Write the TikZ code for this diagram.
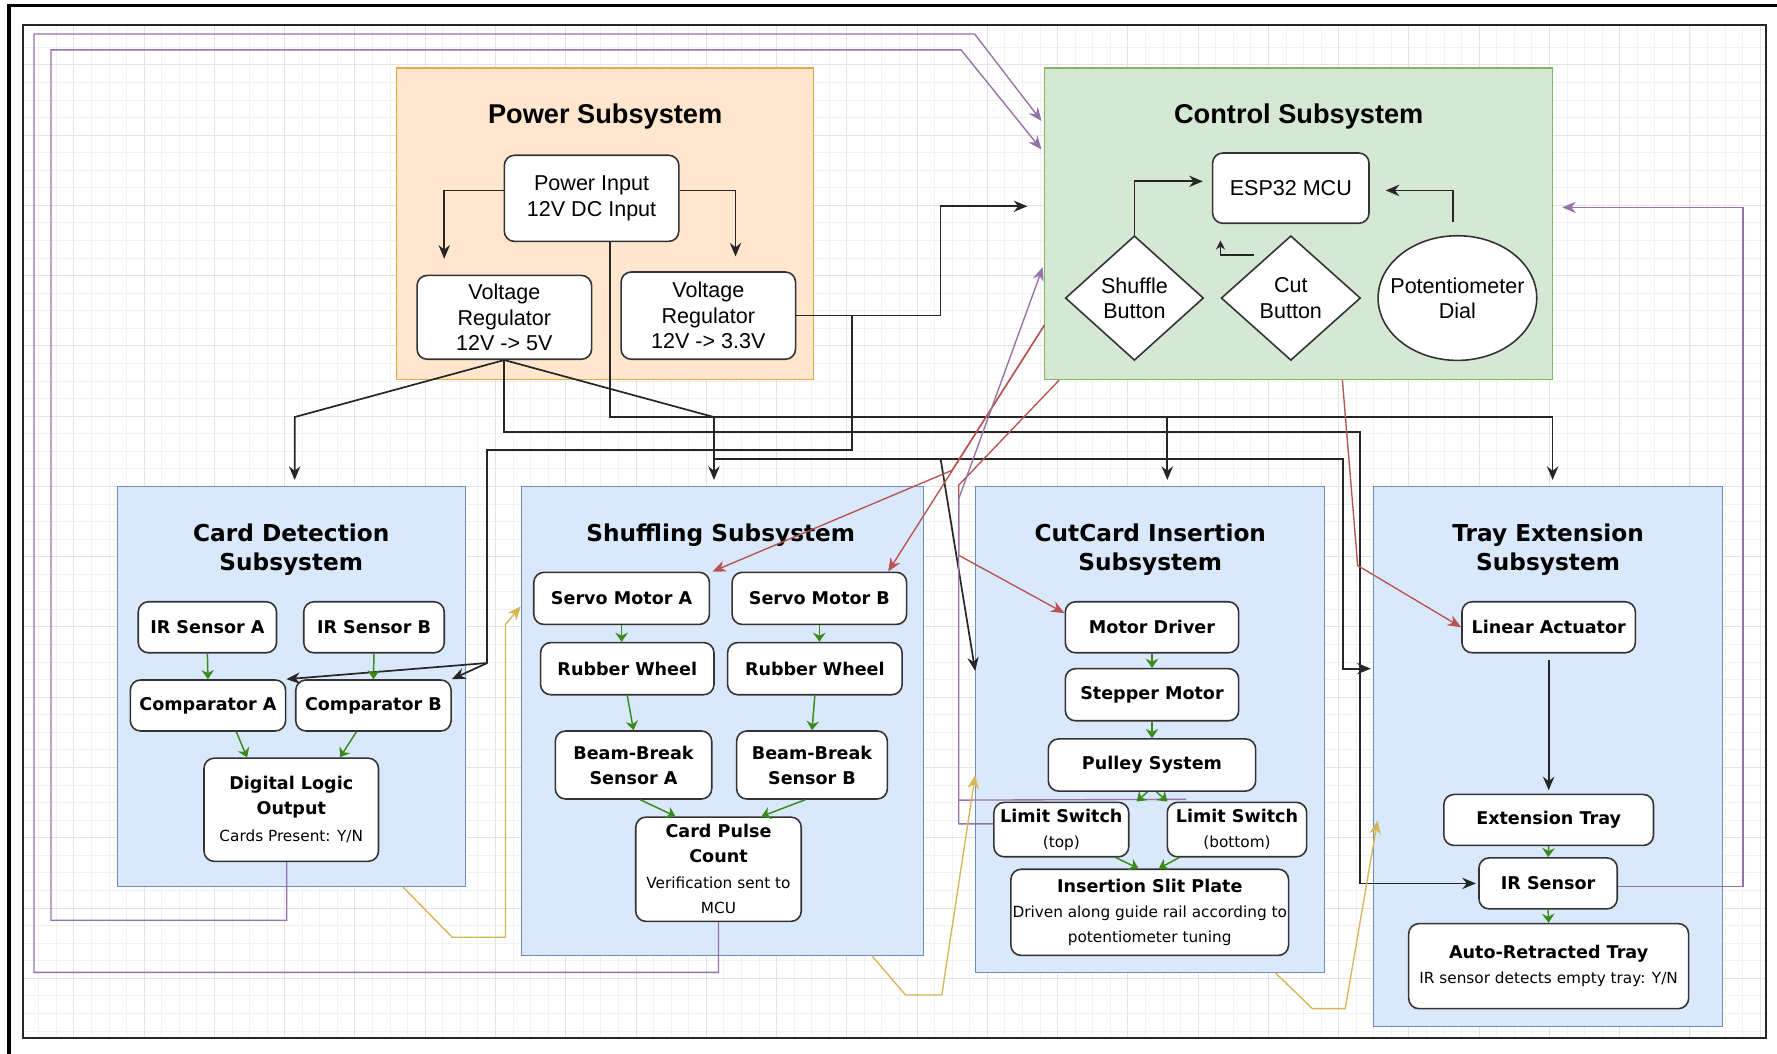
\documentclass[tikz,border=0pt]{standalone}
\usepackage{fontspec}
\setmainfont{Liberation Sans}
\newfontfamily\dvsans{DejaVu Sans}
\usepackage{tikz}
\usetikzlibrary{arrows.meta,shapes.geometric}
\definecolor{pwrfill}{HTML}{FFE6CC}
\definecolor{pwrline}{HTML}{E0AC4A}
\definecolor{ctlfill}{HTML}{D5E8D4}
\definecolor{ctlline}{HTML}{82B366}
\definecolor{subfill}{HTML}{DAE8FC}
\definecolor{subline}{HTML}{6C8EBF}
\definecolor{wRed}{HTML}{B85450}
\definecolor{wPurple}{HTML}{9673A6}
\definecolor{wYellow}{HTML}{D6B656}
\definecolor{wGreen}{HTML}{3A8A1E}
\newcommand{\subtxt}[1]{{\mdseries\fontsize{13.5}{18}\selectfont #1}}

\begin{document}
\begin{tikzpicture}[x=1pt, y=-1pt,
  sysbox/.style={draw=subline, fill=subfill, line width=1pt, inner sep=0pt},
  part/.style={draw=black!80, line width=1.4pt, fill=white, rounded corners=9pt, inner sep=0pt, align=center, font=\dvsans\bfseries\fontsize{15.5}{22}\selectfont},
  pwrpart/.style={part, font=\fontsize{19}{22.5}\selectfont},
  systitle/.style={align=center, font=\dvsans\bfseries\fontsize{20.5}{26}\selectfont},
  toptitle/.style={font=\bfseries\fontsize{24}{28}\selectfont},
  pwire/.style={draw=black!85, line width=1.5pt},
  parrow/.style={pwire, -{Stealth[length=12pt,width=10pt]}},
  ctlwire/.style={draw=wRed, line width=1.2pt, -{Stealth[length=12pt,width=10pt]}},
  fbwire/.style={draw=wPurple, line width=1.2pt, -{Stealth[length=12pt,width=10pt]}},
  auxwire/.style={draw=wYellow, line width=1.2pt, -{Stealth[length=12pt,width=10pt]}},
  flow/.style={draw=wGreen, line width=1.3pt, -{Stealth[length=8pt,width=11pt]}}]
\useasboundingbox (0,0) rectangle (1568,930);
\fill[white] (0,0) rectangle (1568,930);

% background grid
\begin{scope}
\clip (20,22) rectangle (1558,916);
\draw[gray!10, line width=0.4pt, shift={(3,-5)}, step=15.5pt] (0,940) grid (1570,0);
\draw[gray!22, line width=0.5pt, shift={(3,-5)}, step=62pt] (0,940) grid (1570,0);
\end{scope}
\draw[line width=3pt] (8,930) -- (8,5) -- (1568,5);
\draw[black!85, line width=1.6pt] (20,22) rectangle (1558,916);

% power
\node[sysbox, draw=pwrline, fill=pwrfill, minimum width=368, minimum height=275] (pwr) at (534,197.5) {};
\node[toptitle] (pwrtitle) at (534,103) {Power Subsystem};
\node[pwrpart, minimum width=154, minimum height=76] (pin) at (522,175) {Power Input\\12V DC Input};
\node[pwrpart, minimum width=154, minimum height=74] (vrfive) at (445,280) {Voltage\\Regulator\\12V -> 5V};
\node[pwrpart, minimum width=154, minimum height=77] (vrthree) at (625,278.5) {Voltage\\Regulator\\12V -> 3.3V};

% control
\node[sysbox, draw=ctlline, fill=ctlfill, minimum width=448, minimum height=275] (ctl) at (1146,197.5) {};
\node[toptitle] (ctltitle) at (1146,103) {Control Subsystem};
\node[pwrpart, minimum width=138, minimum height=62] (mcu) at (1139,166) {ESP32 MCU};
\node[pwrpart, diamond, sharp corners, minimum width=122, minimum height=110] (shuf) at (1001,263) {Shuffle\\Button};
\node[pwrpart, diamond, sharp corners, minimum width=123, minimum height=110] (cutb) at (1139,263) {Cut\\Button};
\node[pwrpart, ellipse, minimum width=140, minimum height=110] (pot) at (1286,263) {};
\node[align=center, font=\fontsize{19}{22.5}\selectfont] (potlbl) at (pot.center) {Potentiometer\\Dial};

% card detection
\node[sysbox, minimum width=307, minimum height=353] (cdet) at (257.5,605.5) {};
\node[systitle] (cdtitle) at (257,485) {Card Detection\\Subsystem};
\node[part, minimum width=122, minimum height=45] (irA) at (183,553.5) {IR Sensor A};
\node[part, minimum width=124, minimum height=45] (irB) at (330,553.5) {IR Sensor B};
\node[part, minimum width=137, minimum height=45] (compA) at (183.5,622.5) {Comparator A};
\node[part, minimum width=137, minimum height=45] (compB) at (329.5,622.5) {Comparator B};
\node[part, minimum width=154, minimum height=91] (dlo) at (257,714.5) {Digital Logic\\Output\\[2pt]\subtxt{Cards Present: Y/N}};

% shuffling
\node[sysbox, minimum width=355, minimum height=414] (shfl) at (637.5,636) {};
\node[systitle] (shtitle) at (636,472) {Shuffling Subsystem};
\node[part, minimum width=155, minimum height=46] (servoA) at (548.5,528) {Servo Motor A};
\node[part, minimum width=154, minimum height=46] (servoB) at (723,528) {Servo Motor B};
\node[part, minimum width=153, minimum height=46] (wheelA) at (553.5,590) {Rubber Wheel};
\node[part, minimum width=154, minimum height=46] (wheelB) at (719,590) {Rubber Wheel};
\node[part, minimum width=138, minimum height=60] (beamA) at (559,675) {Beam-Break\\Sensor A};
\node[part, minimum width=133, minimum height=60] (beamB) at (716.5,675) {Beam-Break\\Sensor B};
\node[part, minimum width=146, minimum height=92] (pulse) at (634,767) {Card Pulse\\Count\\[1pt]\subtxt{Verification sent to}\\\subtxt{MCU}};

% cut card insertion
\node[sysbox, minimum width=308, minimum height=429] (cutc) at (1015,643.5) {};
\node[systitle] (cctitle) at (1015,485) {CutCard Insertion\\Subsystem};
\node[part, minimum width=153, minimum height=45] (mdrv) at (1016.5,553.5) {Motor Driver};
\node[part, minimum width=153, minimum height=46] (stepm) at (1016.5,613) {Stepper Motor};
\node[part, minimum width=183, minimum height=46] (pulley) at (1016.5,675) {Pulley System};
\node[part, minimum width=119, minimum height=48] (limtop) at (936.5,732) {Limit Switch\\\subtxt{(top)}};
\node[part, minimum width=123, minimum height=48] (limbot) at (1091.5,732) {Limit Switch\\\subtxt{(bottom)}};
\node[part, minimum width=245, minimum height=76] (slit) at (1014.5,805) {Insertion Slit Plate\\\subtxt{Driven along guide rail according to}\\\subtxt{potentiometer tuning}};

% tray extension
\node[sysbox, minimum width=308, minimum height=477] (tray) at (1366,667.5) {};
\node[systitle] (trtitle) at (1366,485) {Tray Extension\\Subsystem};
\node[part, minimum width=153, minimum height=45] (linact) at (1366.5,553.5) {Linear Actuator};
\node[part, minimum width=185, minimum height=45] (extray) at (1366.5,723.5) {Extension Tray};
\node[part, minimum width=122, minimum height=45] (irsens) at (1366,779.5) {IR Sensor};
\node[part, minimum width=247, minimum height=75] (retray) at (1366.5,852.5) {Auto-Retracted Tray\\\subtxt{IR sensor detects empty tray: Y/N}};

% power wiring
\coordinate (jcd) at (260,368);
\coordinate (jsh) at (630,368);
\coordinate (jtr) at (1370,368);
\coordinate (jcc) at (1030,368);
\coordinate (jir) at (1200,381);
\coordinate (jctl) at (830,182);
\coordinate (jv3) at (752,397);
\coordinate (jcmp) at (430,585);
\coordinate (jshb) at (630,405);
\coordinate (jts) at (1185,590);
\coordinate (jcut) at (830,405);
\draw[parrow, shorten >=14pt] ([yshift=7pt]pin.west) -| ([xshift=-53pt]vrfive.north);
\draw[parrow, shorten >=13pt] ([yshift=7pt]pin.east) -| ([xshift=24pt]vrthree.north);
\draw[parrow, shorten >=5pt] (vrfive.south) -- (jcd) -- (jcd |- cdet.north);
\draw[parrow, shorten >=5pt] (vrfive.south) -- (jsh) -- (jsh |- shfl.north);
\draw[parrow, shorten >=5pt] ([xshift=16pt]pin.south) |- (jtr) -- (jtr |- tray.north);
\draw[parrow, shorten >=5pt] (jcc) -- (jcc |- cutc.north);
\draw[parrow, shorten >=2pt] (vrfive.south) |- (jir) |- (irsens.west);
\draw[parrow, shorten >=15pt] (vrthree.east) -| (jctl) -- (jctl -| ctl.west);
\draw[pwire] (vrthree.east) -| (jv3) -| (jcmp);
\draw[parrow] (jcmp) -- (compB.north east);
\draw[parrow] (jcmp) -- (compA.north east);
\draw[parrow, shorten >=2pt] (jshb) -| (jts) -- (jts -| tray.west);
\draw[parrow] (jcut) -- ([yshift=51.5pt]cutc.west);

% control inputs
\draw[parrow, shorten >=8pt] (shuf.north) |- ([yshift=6pt]mcu.west);
\draw[parrow, shorten <=11pt, shorten >=14pt] ([xshift=-4pt]pot.north) |- ([yshift=-2pt]mcu.east);
\draw[pwire, -{Stealth[length=8pt,width=8pt]}] ([xshift=-1pt,yshift=10pt]cutb.north west) -| ++(-30,-13);

% control outputs
\draw[ctlwire] ([yshift=-89.5pt]ctl.west) -- ([xshift=-17pt]servoB.north east);
\draw[ctlwire] ([yshift=-89.5pt]ctl.west) -- (840,415) -- ([xshift=2pt]servoA.north east);
\draw[ctlwire] ([xshift=13pt]ctl.south west) -- (846,428) -- (846,490) -- ([yshift=12.5pt]mdrv.west);
\draw[ctlwire] ([xshift=263pt]ctl.south west) -- (1198,499) -- (linact.west);

% feedback to control
\draw[fbwire, shorten >=4pt] (pulse.south) |- (30,858) |- (860,30) -- ([yshift=87.5pt]ctl.west);
\draw[fbwire, shorten >=4pt] ([xshift=-4pt]dlo.south) |- (45,812) |- (848,44) -- ([yshift=62.5pt]ctl.west);
\draw[fbwire, shorten >=8pt] ([yshift=-2.5pt]irsens.east) -| (1538,183) -- ([yshift=14.5pt]ctl.east);
\draw[fbwire, shorten >=4pt] ([yshift=5pt]limtop.west) -| (846,440) -- ([yshift=-34.5pt]ctl.west);
\draw[draw=wPurple, line width=1.2pt] ([xshift=-45pt,yshift=2pt]limbot.north) -- (846,706);

% subsystem links
\draw[auxwire] ([xshift=-56pt]cdet.south east) -- (399,827) -| (446,551) -- ([yshift=101pt]shfl.west);
\draw[auxwire] ([xshift=-46pt]shfl.south east) -- (799,878) -- (831,878) -- ([yshift=-40.5pt]cutc.west);
\draw[auxwire] ([xshift=-44pt]cutc.south east) -- (1158,890) -- (1187,890) -- ([xshift=4pt,yshift=-56.5pt]tray.west);

% inner flows
\draw[flow] (irA.south) -- (compA.north);
\draw[flow] (irB.south) -- (compB.north);
\draw[flow] ([xshift=25pt]compA.south) -- ([xshift=-39pt]dlo.north);
\draw[flow] ([xshift=-15pt]compB.south) -- ([xshift=43pt]dlo.north);
\draw[flow] (servoA.south) -- (servoA.south |- wheelA.north);
\draw[flow] (servoB.south) -- (servoB.south |- wheelB.north);
\draw[flow] (wheelA.south) -- (beamA.north);
\draw[flow] (wheelB.south) -- (beamB.north);
\draw[flow] ([xshift=6pt]beamA.south) -- ([xshift=-38pt]pulse.north);
\draw[flow] ([xshift=-6pt]beamB.south) -- ([xshift=38pt]pulse.north);
\draw[flow] (mdrv.south) -- (stepm.north);
\draw[flow] (stepm.south) -- (pulley.north);
\draw[flow] ([xshift=-4pt]pulley.south) -- ([xshift=66.5pt]limtop.north);
\draw[flow] ([xshift=4pt]pulley.south) -- ([xshift=-61.5pt]limbot.north);
\draw[flow] ([xshift=48pt]limtop.south) -- ([xshift=-10pt]slit.north);
\draw[flow] ([xshift=-51pt]limbot.south) -- ([xshift=8pt]slit.north);
\draw[parrow, shorten <=6pt, shorten >=3pt] (linact.south) -- (extray.north);
\draw[flow] (extray.south) -- (irsens.north);
\draw[flow] (irsens.south) -- (retray.north);
\end{tikzpicture}
\end{document}
